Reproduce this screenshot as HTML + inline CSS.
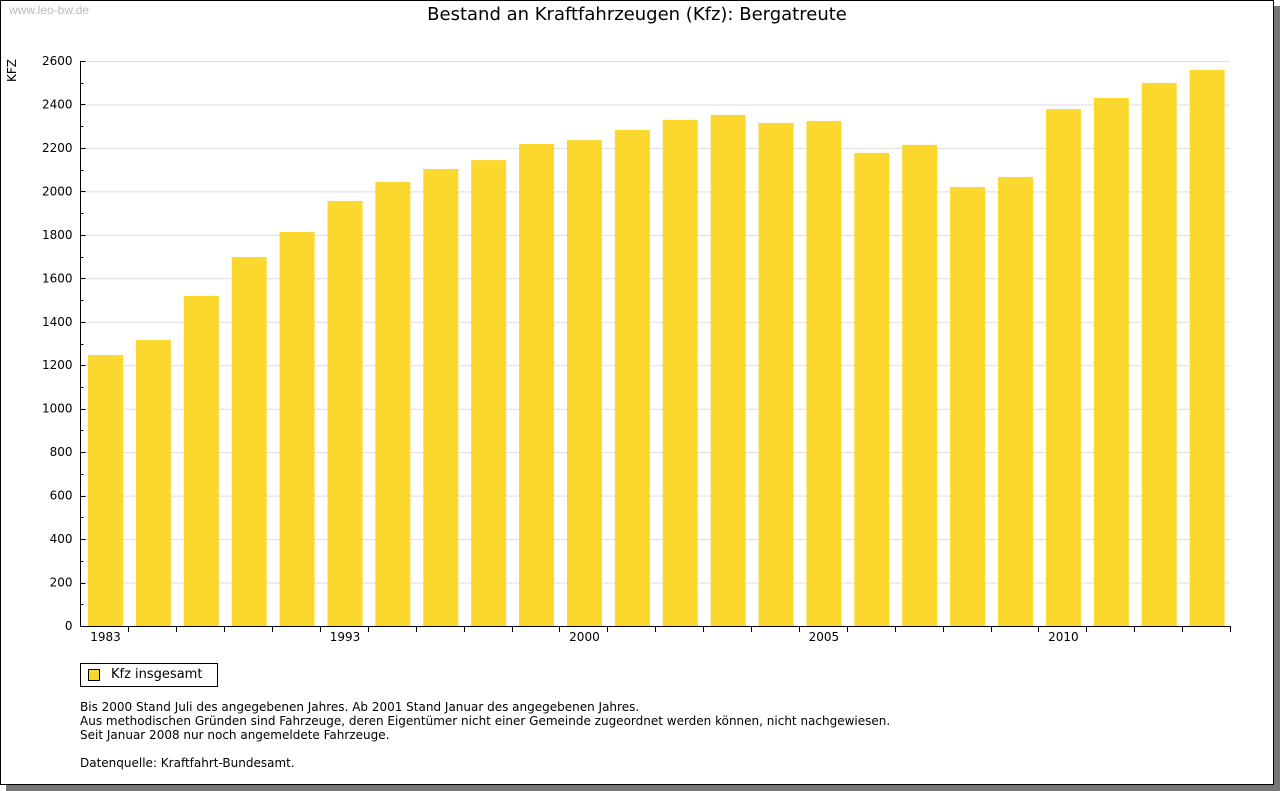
<!DOCTYPE html>
<html><head><meta charset="utf-8"><style>
body{margin:0;background:#fff;font-family:"DejaVu Sans","Liberation Sans",sans-serif;}
#frame{position:absolute;left:0;top:0;width:1272px;height:783px;border:1px solid #000;background:#fff;box-shadow:6px 6px 0 #777;}
.t{position:absolute;white-space:nowrap;}
</style></head><body>
<div id="frame"></div>
<div class="t" style="left:9px;top:3px;font-size:12px;color:#bbb;font-family:'Liberation Sans',sans-serif;">www.leo-bw.de</div>
<div class="t" style="left:0;width:1274px;text-align:center;top:4px;font-size:18px;color:#000;">Bestand an Kraftfahrzeugen (Kfz): Bergatreute</div>
<svg id="chart" width="1280" height="791" style="position:absolute;left:0;top:0"></svg>
<div style="position:absolute;left:80px;top:663px;width:136px;height:22px;border:1px solid #000;">
<div style="position:absolute;left:7px;top:5px;width:10px;height:10px;background:#fcd72e;border:1px solid #000;"></div>
<div class="t" style="left:30px;top:3px;font-size:13px;">Kfz insgesamt</div></div>
<div class="t" style="left:80px;top:700px;font-size:12px;line-height:14px;">Bis 2000 Stand Juli des angegebenen Jahres. Ab 2001 Stand Januar des angegebenen Jahres.<br>Aus methodischen Gründen sind Fahrzeuge, deren Eigentümer nicht einer Gemeinde zugeordnet werden können, nicht nachgewiesen.<br>Seit Januar 2008 nur noch angemeldete Fahrzeuge.<br><br>Datenquelle: Kraftfahrt-Bundesamt.</div>
<script>
const categories=["1983","1985","1987","1989","1991","1993","1995","1996","1997","1998","1999","2000","2001","2002","2003","2004","2005","2006","2007","2008","2009","2010","2011","2012","2013"].slice(0,0);
const years=["1983","1985","1987","1989","1991","1993","1995","1997","1998","1999","2000","2001","2002","2003","2004","2005","2006","2007","2008","2009","2010","2011","2012","2013"];
const shownLabels=["1983","","","","","1993","","","","","2000","","","","","2005","","","","","2010","","",""];
const values=[1247,1316,1519,1698,1813,1956,2043,2103,2144,2218,2236,2283,2329,2352,2315,2324,2177,2214,2020,2066,2379,2430,2499,2559];
const yTicks=[0,200,400,600,800,1000,1200,1400,1600,1800,2000,2200,2400,2600];
const NS="http://www.w3.org/2000/svg",svg=document.getElementById('chart');
const X0=80.5,X1=1230,Y0=626,Y1=61,YMAX=2600;
const y=v=>Y0-(Y0-Y1)*v/YMAX;
const step=(X1-X0)/years.length;
const x=i=>X0+step*i;
function mk(t,a){const e=document.createElementNS(NS,t);for(const k in a)e.setAttribute(k,a[k]);svg.appendChild(e);return e;}
yTicks.forEach((v,i)=>{
 if(v>0){const g=mk('line',{x1:X0,x2:X1,y1:y(v)+0.5,y2:y(v)+0.5,stroke:'#ddd'});
 
 }
 const tk=mk('line',{x1:X0,x2:X0+5,y1:Math.round(y(v))+0.5,y2:Math.round(y(v))+0.5,stroke:'#000'});
 
 
 const mt=mk('line',{x1:X0,x2:X0+3,y1:Math.round(y(v+100))+0.5,y2:Math.round(y(v+100))+0.5,stroke:'#000'});
 if(v>=2600)mt.remove();
 
 
 const t=mk('text',{x:X0-8,y:y(v)+4,'text-anchor':'end','font-size':12,'font-family':'DejaVu Sans, Liberation Sans, sans-serif'});
 t.textContent=v;
 
 
});
values.forEach((v,i)=>{
 const b=mk('rect',{x:x(i)+7.5,y:y(v),width:35,height:Y0-y(v),fill:'#fcd72e'});
 
 
 const tk=mk('line',{x1:Math.round(x(i+1))+0.5,x2:Math.round(x(i+1))+0.5,y1:Y0,y2:Y0+6,stroke:'#000'});
 
 
 if(shownLabels[i]){const t=mk('text',{x:x(i)+25,y:Y0+15,'text-anchor':'middle','font-size':12,'font-family':'DejaVu Sans, Liberation Sans, sans-serif'});
 t.textContent=shownLabels[i];
 
 }
});
const ax=mk('path',{d:`M${X0} ${Y1} V${Y0+0.5} H${X1}`,stroke:'#000',fill:'none'});


const yl=mk('text',{x:0,y:0,transform:'translate(16,82) rotate(-90)','font-size':12,'font-family':'DejaVu Sans, sans-serif'});
yl.textContent='KFZ';


</script>
</body></html>
